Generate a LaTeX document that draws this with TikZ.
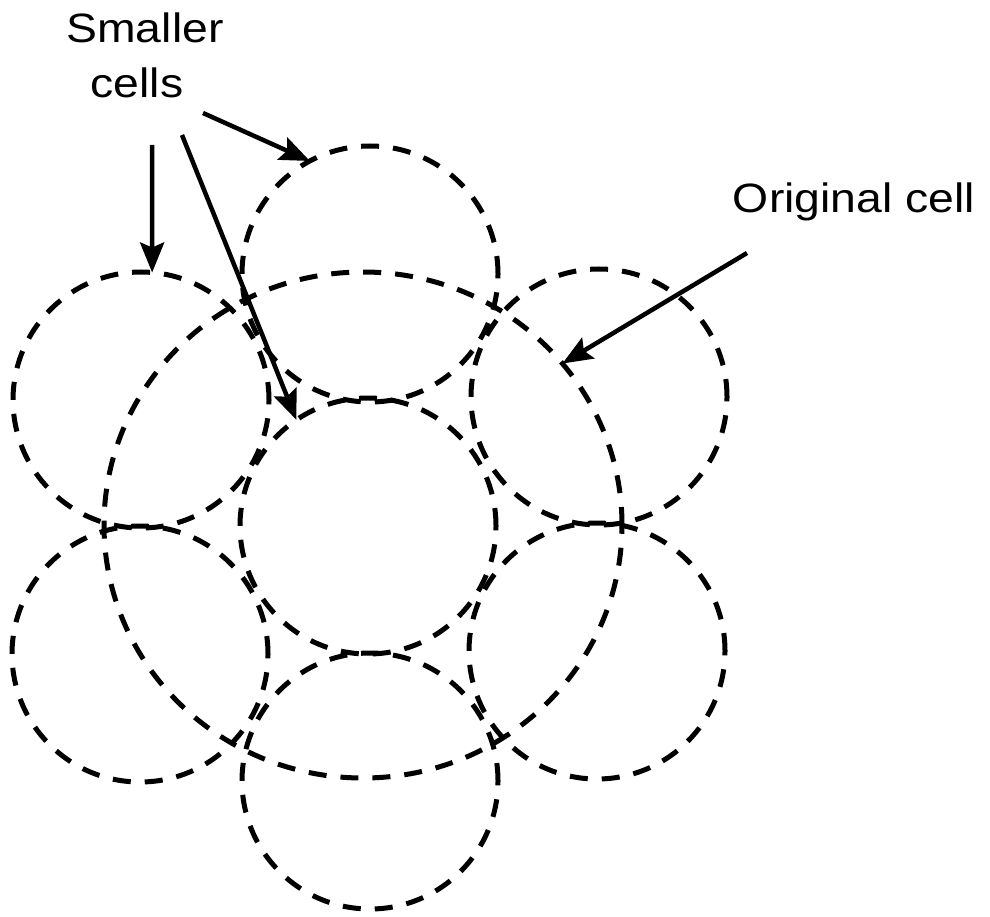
\documentclass[tikz,border=0pt]{standalone}
\usepackage{fontspec}
\newfontfamily\labfont[FakeStretch=1.13]{Liberation Sans}
\usetikzlibrary{arrows.meta,shapes.geometric}
\begin{document}
\begin{tikzpicture}[x=1pt,y=-1pt,
  cell/.style={draw, circle, dash pattern=on 18pt off 14pt, line width=5pt,
    inner sep=0pt, outer sep=0pt, minimum size=256pt},
  orig/.style={draw, ellipse, dash pattern=on 18pt off 14pt, line width=5pt,
    inner sep=0pt, outer sep=0pt, minimum width=518pt, minimum height=506pt},
  pointer/.style={-{Stealth[length=30pt,width=24pt,inset=5pt]}, line width=4.5pt},
  lab/.style={font=\labfont\fontsize{41}{48}\selectfont, inner sep=0pt, anchor=base}]
\useasboundingbox (0,0) rectangle (990,917);

% original cell
\node[orig] (orig) at (363,525) {};
% smaller cells
\node[cell] (c)  at (368,526) {};
\node[cell] (t)  at (370,274) {};
\node[cell] (tl) at (141,400) {};
\node[cell] (tr) at (599,397) {};
\node[cell] (bl) at (140,654) {};
\node[cell] (br) at (597,651) {};
\node[cell] (b)  at (370,781) {};

% labels
\node[lab] (sm) at (145,43) {Smaller};
\node[lab] (ce) at (137,98) {cells};
\node[lab] (oc) at (854,213) {Original cell};

% arrows
\coordinate (a1) at (152,145);
\coordinate (a2) at (182,135);
\coordinate (a3) at (203,113);
\coordinate (a4) at (747,253);
\draw[pointer] (a1) -- (tl.85);
\draw[pointer] (a2) -- (c.124);
\draw[pointer] (a3) -- (t.118);
\draw[pointer] (a4) -- (orig.39);
\end{tikzpicture}
\end{document}
